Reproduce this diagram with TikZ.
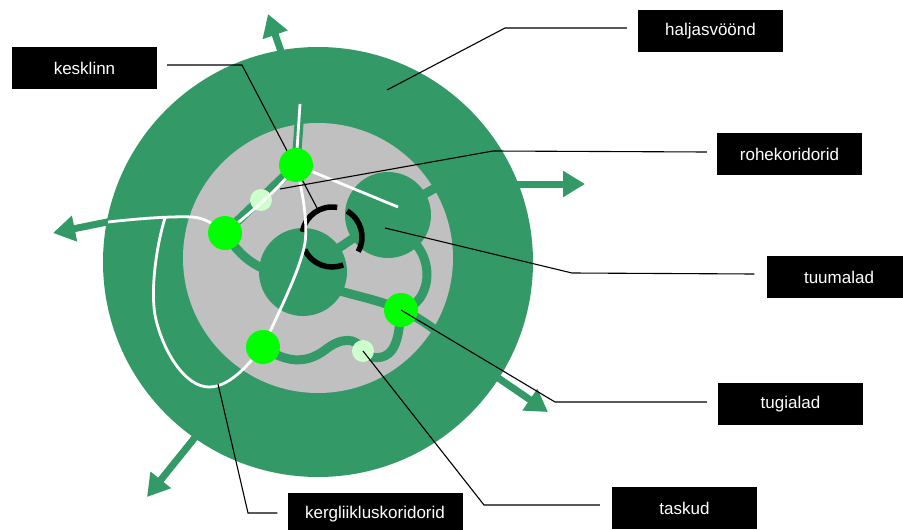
\documentclass[tikz,border=0pt]{standalone}
\usepackage{fontspec}
\setmainfont{Liberation Sans}
\usetikzlibrary{arrows.meta}
\definecolor{ringgreen}{HTML}{339966}
\definecolor{hubgreen}{HTML}{00FF00}
\definecolor{pocketgreen}{HTML}{CCFFCC}
\definecolor{zonegray}{HTML}{C0C0C0}
\begin{document}
\begin{tikzpicture}[x=1pt,y=-1pt,
  lbl/.style={fill=black,text=white,minimum width=145pt,minimum height=42pt,inner sep=0pt,font=\fontsize{17}{20}\selectfont},
  leader/.style={draw=black,line width=1.1pt},
  band/.style={draw=ringgreen,line width=9pt},
  bike/.style={draw=white,line width=2.8pt},
  hub/.style={circle,fill=hubgreen,minimum size=34pt,inner sep=0pt},
  pocket/.style={circle,fill=pocketgreen,minimum size=22pt,inner sep=0pt},
  outarrow/.style={draw=ringgreen,line width=7pt,-{Triangle[length=22pt,width=25pt]}},
  cityring/.style={draw=black,line width=5.5pt}]
\useasboundingbox (0,0) rectangle (903,530);

% green belt and outward arrows
\fill[ringgreen] (318,262) circle (215pt);
\draw[outarrow] (284,60) -- (268,14);
\draw[outarrow] (505,184) -- (585,184);
\draw[outarrow] (488,371) -- (548,412);
\draw[outarrow] (205,425) -- (147,497);
\draw[outarrow] (112,221) -- (53,233);

% built-up zone
\fill[zonegray] (318,258) circle (135pt);

% hub positions
\coordinate (A) at (296,165);
\coordinate (B) at (225,233);
\coordinate (C) at (263,347);
\coordinate (D) at (401,310);
\coordinate (P1) at (261,200);
\coordinate (P2) at (363,351);

% green corridors
\draw[band] (300,110) -- (A);
\draw[band] (A) -- (B);
\draw[band] (B) .. controls (236,250) and (248,264) .. (272,272);
\draw[band] (303,272) -- (388,215);
\draw[band] (388,215) -- (470,168);
\draw[band] (412,240) .. controls (428,255) and (432,280) .. (420,298) .. controls (414,306) and (408,309) .. (D);
\draw[band] (330,288) .. controls (355,296) and (380,300) .. (D) .. controls (415,315) and (430,326) .. (442,335);
\draw[band] (C) .. controls (285,362) and (305,365) .. (325,350) .. controls (340,338) and (356,336) .. (P2) .. controls (370,360) and (385,360) .. (392,350) .. controls (397,342) and (399,335) .. (D);

% nuclei
\fill[ringgreen] (303,272) circle (44pt);
\fill[ringgreen] (388,215) circle (43pt);

% city centre ring
\draw[cityring] (332,237) ++(80:30pt) arc[start angle=80, end angle=170, radius=30pt];
\draw[cityring] (332,237) ++(205:30pt) arc[start angle=205, end angle=292, radius=30pt];
\draw[cityring] (332,237) ++(-29:30pt) arc[start angle=-29, end angle=60, radius=30pt];

% pockets
\node[pocket] (pocket1) at (P1) {};
\node[pocket] (pocket2) at (P2) {};

% cycle routes
\draw[bike] (300,104) -- (A);
\draw[bike] (A) -- (398,207);
\draw[bike] (C) .. controls (282,305) and (300,270) .. (305,243) .. controls (308,220) and (302,190) .. (A);
\draw[bike] (A) .. controls (285,182) and (262,204) .. (B);
\draw[bike] (B) .. controls (212,223) and (205,218) .. (192,217) .. controls (170,216) and (135,219) .. (108,222);
\draw[bike] (165,218) .. controls (158,240) and (150,285) .. (155,315) .. controls (162,350) and (185,388) .. (210,387) .. controls (232,386) and (250,362) .. (C);

% label boxes
\node[lbl] (kesklinn) at (84.5,68) {kesklinn};
\node[lbl] (haljas) at (710.5,31) {haljasvöönd};
\node[lbl] (rohe) at (789.5,154) {rohekoridorid};
\node[lbl] (tuum) at (839,277) {tuumalad};
\node[lbl] (tugi) at (790.5,404) {tugialad};
\node[lbl] (task) at (684.5,508) {taskud};
\node[lbl,minimum width=175pt] (kerg) at (375,514) {kergliikluskoridorid};

% leader targets
\coordinate (tKesk) at (317,208);
\coordinate (tHalj) at (387,90);
\coordinate (tRohe) at (280,189);
\coordinate (tTuum) at (385,228);
\coordinate (tKerg) at (218,384);

\draw[leader] ([xshift=10pt,yshift=3pt]kesklinn.east) -- (242,65) -- (tKesk);

% hubs
\node[hub] (hubA) at (A) {};
\node[hub] (hubB) at (B) {};
\node[hub] (hubC) at (C) {};
\node[hub] (hubD) at (D) {};

% other leaders
\draw[leader] ([xshift=-11pt,yshift=3pt]haljas.west) -- (505,28) -- (tHalj);
\draw[leader] ([xshift=-10pt,yshift=2pt]rohe.west) -- (493,151) -- (tRohe);
\draw[leader] ([xshift=-12pt,yshift=3pt]tuum.west) -- (572,273) -- (tTuum);
\draw[leader] ([xshift=-11pt,yshift=2pt]tugi.west) -- (555,402) -- (D);
\draw[leader] ([xshift=-12pt,yshift=3pt]task.west) -- (484,505) -- (P2);
\draw[leader] ([xshift=-10pt,yshift=1pt]kerg.west) -- (248,513) -- (tKerg);
\end{tikzpicture}
\end{document}
